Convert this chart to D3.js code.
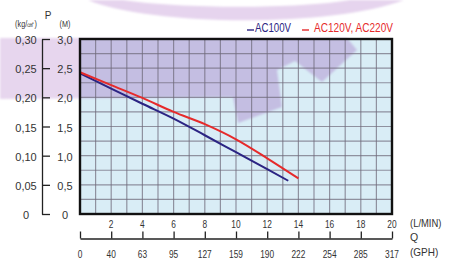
<!DOCTYPE html>
<html lang="en">
<head>
<meta charset="UTF-8">
<title>Pump curve</title>
<script src="https://d3js.org/d3.v7.min.js"></script>
<style>
  body { margin: 0; background: #fff; }
  svg { display: block; }
  text { font-family: "Liberation Sans", Arial, sans-serif; }
</style>
</head>
<body>
<svg id="chart" width="457" height="262"></svg>
<script>
// flow (L/min) and head (M)
const ac100Q = [0, 2, 4, 6, 8, 10, 12, 13.35];
const ac100H = [2.41, 2.15, 1.89, 1.635, 1.35, 1.06, 0.77, 0.57];
const ac120Q = [0, 2, 4, 6, 8, 10, 12, 14];
const ac120H = [2.43, 2.21, 1.99, 1.75, 1.54, 1.28, 0.955, 0.61];

const headTicks = [0, 0.5, 1, 1.5, 2, 2.5, 3];
const headLabels = ["0", "0,5", "1,0", "1,5", "2,0", "2,5", "3,0"];
const kgLabels = ["0", "0,05", "0,10", "0,15", "0,20", "0,25", "0,30"];
const lpmTicks = [2, 4, 6, 8, 10, 12, 14, 16, 18, 20];
const gphTicks = [0, 2, 4, 6, 8, 10, 12, 14, 16, 18, 20];
const gphLabels = ["0", "40", "63", "95", "127", "159", "190", "222", "254", "285", "317"];

const x = d3.scaleLinear().domain([0, 20]).range([80, 392]);
const y = d3.scaleLinear().domain([0, 3]).range([214, 39]);

const svg = d3.select("#chart");
const defs = svg.append("defs");
defs.append("clipPath").attr("id", "plotClip")
  .append("rect").attr("x", 80).attr("y", 39).attr("width", 312).attr("height", 175);
defs.append("filter").attr("id", "soft")
  .append("feGaussianBlur").attr("stdDeviation", 0.9);

// background watermark (gear logo), decorative
const gearPath = "M0,38 L347,38 L357,50 L322,82 L295,61 L277,70 L282,107 L238,123 L233,97 L0,99 Z";
const ringPath = "M88,0 C150,26 330,28 404,0 L350,0 C300,9 180,9 123,0 Z";

svg.append("path").attr("d", ringPath).attr("fill", "#e6d4ee").attr("filter", "url(#soft)");
svg.append("path").attr("d", gearPath).attr("fill", "#e7d6ee").attr("filter", "url(#soft)");

// plot background
svg.append("rect").attr("x", 80).attr("y", 39).attr("width", 312).attr("height", 175)
  .attr("fill", "#d9edf6");
svg.append("g").attr("clip-path", "url(#plotClip)")
  .append("path").attr("d", gearPath).attr("fill", "#c4bee2").attr("filter", "url(#soft)");

// grid
const grid = svg.append("g").attr("stroke", "#6f6a7a").attr("stroke-opacity", 0.7).attr("stroke-width", 1.2);
grid.selectAll("line.v").data(d3.range(1, 20)).enter().append("line")
  .attr("x1", d => x(d)).attr("x2", d => x(d)).attr("y1", y(3)).attr("y2", y(0));
grid.selectAll("line.h").data(d3.range(0.25, 3, 0.25)).enter().append("line")
  .attr("x1", x(0)).attr("x2", x(20)).attr("y1", d => y(d)).attr("y2", d => y(d));

// curves
const line = d3.line().x(d => x(d[0])).y(d => y(d[1])).curve(d3.curveMonotoneX);
svg.append("path").datum(d3.zip(ac100Q, ac100H)).attr("d", line)
  .attr("fill", "none").attr("stroke", "#2b2483").attr("stroke-width", 2);
svg.append("path").datum(d3.zip(ac120Q, ac120H)).attr("d", line)
  .attr("fill", "none").attr("stroke", "#e62a2b").attr("stroke-width", 2);

// frame
svg.append("rect").attr("x", 80).attr("y", 39).attr("width", 312).attr("height", 175)
  .attr("fill", "none").attr("stroke", "#111").attr("stroke-width", 2.4);

// left pressure axis
const yAxis = svg.append("g").attr("transform", "translate(42,0)")
  .call(d3.axisRight(y).tickValues(headTicks).tickSize(8).tickSizeOuter(0).tickFormat(""));
yAxis.selectAll("path, line").attr("stroke", "#222").attr("stroke-width", 1.3);

svg.selectAll("text.kg").data(headTicks).enter().append("text")
  .attr("x", 26).attr("y", d => y(d) + 5)
  .attr("text-anchor", "middle").attr("font-size", 11).attr("fill", "#333")
  .text((d, i) => kgLabels[i]);
svg.selectAll("text.m").data(headTicks).enter().append("text")
  .attr("x", 65).attr("y", d => y(d) + 5)
  .attr("text-anchor", "middle").attr("font-size", 11).attr("fill", "#333")
  .text((d, i) => headLabels[i]);

svg.append("text").attr("transform", "translate(26,27) scale(0.85,1)")
  .attr("text-anchor", "middle").attr("font-size", 8.5).attr("fill", "#333").text("(kg/㎠)");
svg.append("text").attr("x", 48).attr("y", 19)
  .attr("text-anchor", "middle").attr("font-size", 10).attr("fill", "#333").text("P");
svg.append("text").attr("transform", "translate(65,27) scale(0.85,1)")
  .attr("text-anchor", "middle").attr("font-size", 8.5).attr("fill", "#333").text("(M)");

// L/min labels (condensed)
svg.selectAll("text.lpm").data(lpmTicks).enter().append("text")
  .attr("transform", d => `translate(${x(d)},227.5) scale(0.76,1)`)
  .attr("text-anchor", "middle").attr("font-size", 11).attr("fill", "#333")
  .text(d => d);

// GPH axis
const gAxis = svg.append("g").attr("transform", "translate(0,238.5)")
  .call(d3.axisTop(x).tickValues(gphTicks).tickSize(7).tickSizeOuter(0).tickFormat(""));
gAxis.selectAll("path, line").attr("stroke", "#222").attr("stroke-width", 1.3);
svg.selectAll("text.gph").data(gphTicks).enter().append("text")
  .attr("transform", d => `translate(${x(d)},257.5) scale(0.76,1)`)
  .attr("text-anchor", "middle").attr("font-size", 11).attr("fill", "#333")
  .text((d, i) => gphLabels[i]);

// unit labels
const units = [["(L/MIN)", 226.5, 0.9], ["Q", 241, 1], ["(GPH)", 256, 0.95]];
svg.selectAll("text.unit").data(units).enter().append("text")
  .attr("transform", d => `translate(410,${d[1]}) scale(${d[2]},1)`)
  .attr("font-size", 10.5).attr("fill", "#333").text(d => d[0]);

// legend
const legend = [["AC100V", "#2b2483", 247, 255, 36], ["AC120V, AC220V", "#e62a2b", 302, 314, 79]];
const lg = svg.selectAll("g.lg").data(legend).enter().append("g");
lg.append("line").attr("x1", d => d[2]).attr("x2", d => d[2] + 7).attr("y1", 30).attr("y2", 30)
  .attr("stroke", d => d[1]).attr("stroke-width", 1.4);
lg.append("text").attr("x", d => d[3]).attr("y", 31.7)
  .attr("font-size", 12).attr("fill", d => d[1])
  .attr("textLength", d => d[4]).attr("lengthAdjust", "spacingAndGlyphs")
  .text(d => d[0]);
</script>
</body>
</html>
